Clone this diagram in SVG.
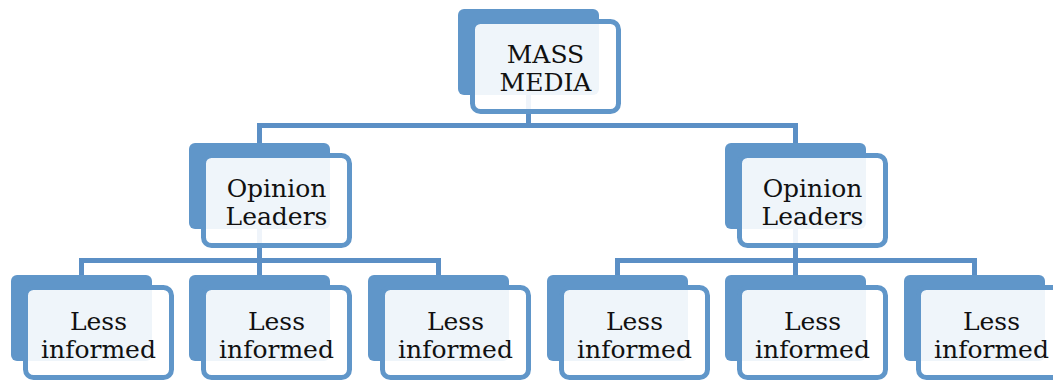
<svg xmlns="http://www.w3.org/2000/svg" width="1053" height="382" viewBox="0 0 1053 382">
<defs>
<style>
.back{fill:#6096c9;}
.front{fill:#ffffff;fill-opacity:0.9;stroke:#6096c9;stroke-width:5;}
.lbl{font-family:"DejaVu Serif","Liberation Serif",serif;font-size:25px;fill:#111111;text-anchor:middle;}
.conn{fill:none;stroke:#5b8fc5;stroke-width:5;}
</style>
<g id="node">
<rect class="back" x="0" y="0" width="141" height="86" rx="6"/>
<rect class="front" x="14.5" y="12.5" width="146" height="90" rx="8"/>
</g>
</defs>
<g id="connectors">
<path class="conn" d="M528.5 95 V125.5 M259.5 125.5 H795.5 M259.5 123 V143 M795.5 123 V143"/>
<path class="conn" d="M259.5 229 V260.5 M81.5 260.5 H438.5 M81.5 258 V275 M259.5 258 V275 M438.5 258 V275"/>
<path class="conn" d="M795.5 229 V260.5 M617.5 260.5 H974.5 M617.5 258 V275 M795.5 258 V275 M974.5 258 V275"/>
</g>
<g id="mass-media"><use href="#node" x="458" y="9"/><text class="lbl" x="545.5" y="63">MASS</text><text class="lbl" x="545.5" y="91">MEDIA</text></g>
<g id="opinion-leaders-1"><use href="#node" x="189" y="143"/><text class="lbl" x="276.5" y="197">Opinion</text><text class="lbl" x="276.5" y="225">Leaders</text></g>
<g id="opinion-leaders-2"><use href="#node" x="725" y="143"/><text class="lbl" x="812.5" y="197">Opinion</text><text class="lbl" x="812.5" y="225">Leaders</text></g>
<g id="less-informed-1"><use href="#node" x="11" y="275"/><text class="lbl" x="98.5" y="330">Less</text><text class="lbl" x="98.5" y="358">informed</text></g>
<g id="less-informed-2"><use href="#node" x="189" y="275"/><text class="lbl" x="276.5" y="330">Less</text><text class="lbl" x="276.5" y="358">informed</text></g>
<g id="less-informed-3"><use href="#node" x="368" y="275"/><text class="lbl" x="455.5" y="330">Less</text><text class="lbl" x="455.5" y="358">informed</text></g>
<g id="less-informed-4"><use href="#node" x="547" y="275"/><text class="lbl" x="634.5" y="330">Less</text><text class="lbl" x="634.5" y="358">informed</text></g>
<g id="less-informed-5"><use href="#node" x="725" y="275"/><text class="lbl" x="812.5" y="330">Less</text><text class="lbl" x="812.5" y="358">informed</text></g>
<g id="less-informed-6"><use href="#node" x="904" y="275"/><text class="lbl" x="991.5" y="330">Less</text><text class="lbl" x="991.5" y="358">informed</text></g>
</svg>
